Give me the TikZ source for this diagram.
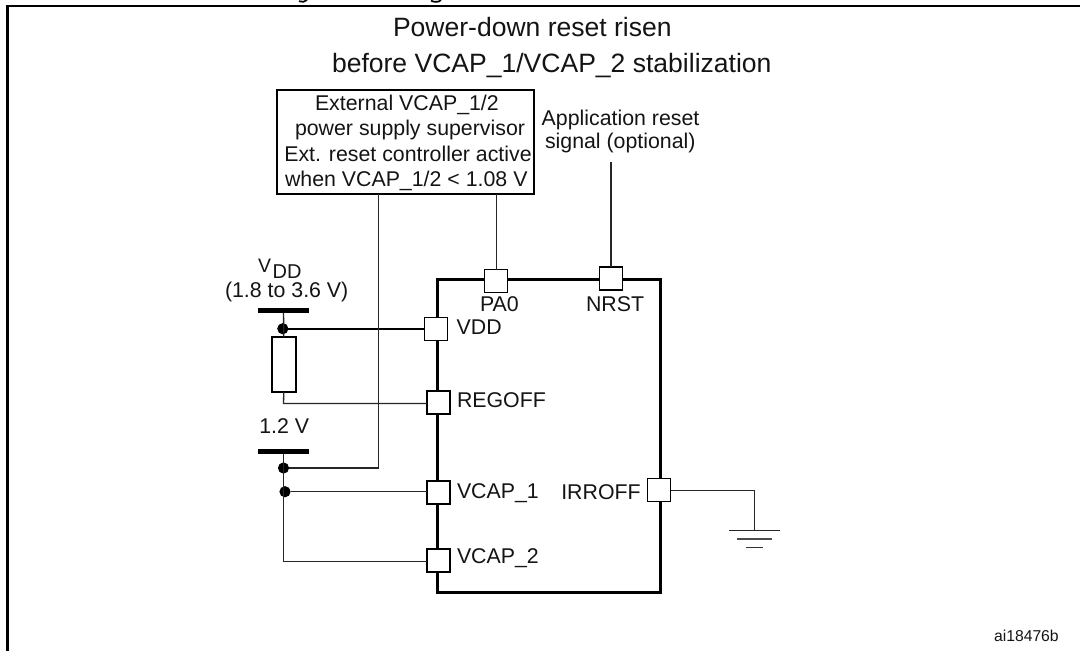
\documentclass[tikz,border=0pt]{standalone}
\usepackage{fontspec}
\setmainfont{Liberation Sans}
\begin{document}
\begin{tikzpicture}[x=0.75pt,y=-0.75pt,
  txt/.style={inner sep=0pt,outer sep=0pt,anchor=base west,font=\fontsize{16}{16}\selectfont,text=black!92},
  title/.style={txt,font=\fontsize{19.9}{20}\selectfont},
  tiny/.style={txt,font=\fontsize{11.8}{12}\selectfont},
  wirethin/.style={draw=black!85,line width=1pt},
  wirethick/.style={draw=black,line width=1.7pt},
  pin/.style={draw=black,fill=white,minimum width=17.4pt,minimum height=17.2pt,inner sep=0pt,outer sep=0pt,line width=0.85pt},
  pinbold/.style={pin,line width=1.45pt},
  busbar/.style={fill=black,minimum width=38.2pt,minimum height=3.6pt,inner sep=0pt,outer sep=0pt},
  jdot/.style={circle,fill=black,minimum size=8.4pt,inner sep=0pt,outer sep=0pt},
  chipbox/.style={draw=black,line width=1.9pt,minimum width=167.4pt,minimum height=234.75pt,inner sep=0pt,outer sep=0pt},
  supbox/.style={draw=black,line width=1.9pt,minimum width=192.8pt,minimum height=78pt,inner sep=0pt,outer sep=0pt},
  resbox/.style={draw=black,fill=white,line width=1.45pt,minimum width=17.7pt,minimum height=41pt,inner sep=0pt,outer sep=0pt}]
\useasboundingbox (0,0) rectangle (1080,651);
% frame
\coordinate (fa) at (7.4,651);
\coordinate (fb) at (7.4,6);
\coordinate (fc) at (1080,6);
\draw[black,line width=1.8pt,line join=miter] (fa) -- (fb) -- (fc);
% clipped remains of the heading above the frame
\draw[black,line width=1.3pt] (299,1.2) .. controls (302,2.4) and (305,2) .. (307,0);
\draw[black,line width=1.3pt] (431,0.6) .. controls (434,2.4) and (439,2.4) .. (441,0);
% titles
\node[title] (t1) at (393,36) {Power-down reset risen};
\node[title] (t2) at (332,72.7) {before VCAP\_1/VCAP\_2 stabilization};
% chip and supervisor
\node[chipbox] (chip) at (548.9,435.8) {};
\node[supbox] (sup) at (405.4,142) {};
\node[txt] (s1) at (315,110) {External VCAP\_1/2};
\node[txt] (s2) at (295,135.7) {power supply supervisor};
\node[txt] (s3) at (284.3,161.7) {Ext. reset controller active};
\node[txt] (s4) at (285,186.7) {when VCAP\_1/2 < 1.08 V};
\node[txt] (app1) at (541.7,125) {Application reset};
\node[txt] (app2) at (545,148.3) {signal (optional)};
\coordinate (nrsttop) at (611,162);
% pins
\node[pin] (pa0) at (496,281.2) {};
\node[pin] (nrst) at (611,278.5) {};
\node[pin] (vdd) at (436,328.7) {};
\node[pinbold] (regoff) at (438.5,402.5) {};
\node[pinbold] (vcap1) at (438.5,492.3) {};
\node[pinbold] (vcap2) at (438.5,560.5) {};
\node[pin] (irroff) at (659,490.2) {};
% power rails
\node[busbar] (railvdd) at (283.5,310.7) {};
\node[busbar] (railcap) at (283.5,451.3) {};
\node[resbox] (res) at (283.8,364.4) {};
\node[jdot] (dvdd) at (282.8,328.7) {};
\node[jdot] (dsup) at (283.5,468) {};
\node[jdot] (dcap) at (285,491.7) {};
\coordinate (corner2) at (283.5,561.5);
\coordinate (corner1) at (283.5,403.5);
\coordinate (gndtop) at (754.5,490.5);
\coordinate (supfoot) at (378.5,193.8);
\coordinate (supfootb) at (496.5,193.8);
% wires
\draw[wirethin] (railvdd) -- (res.north);
\draw[wirethick] (dvdd) -- (vdd.west);
\draw[wirethin] (res.south) -- (corner1) -- (corner1 -| regoff.west);
\draw[wirethin] (supfoot) -- (supfoot |- dsup) -- (dsup);
\draw[wirethin] (railcap) -- (corner2) -- (corner2 -| vcap2.west);
\draw[wirethin] (dcap) -- (dcap -| vcap1.west);
\draw[wirethin] (supfootb) -- (pa0.north -| supfootb);
\draw[wirethin] (nrsttop) -- (nrst.north);
\coordinate (gnd) at (754.5,530.3);
\draw[wirethin] (gndtop -| irroff.east) -- (gndtop) -- (gnd);
% ground
\draw[black!85,line width=0.9pt] (729,530.3) -- (gnd) -- (780,530.3);
\draw[black!70,line width=1.1pt] (737.3,539) -- (772,539);
\draw[black!80,line width=0.9pt] (746,547.7) -- (763.3,547.7);
% labels
\node[txt,font=\fontsize{14.6}{15}\selectfont] (lv) at (258,272.7) {V};
\node[txt,font=\fontsize{15}{15}\selectfont] (ldd) at (272.7,278) {DD};
\node[txt] (lrange) at (225,297.3) {(1.8 to 3.6 V)};
\node[txt] (l12) at (259.3,433.3) {1.2 V};
\node[txt] (lpa0) at (480,311.7) {PA0};
\node[txt] (lnrst) at (586,311.7) {NRST};
\node[txt] (lvdd) at (456.7,334) {VDD};
\node[txt] (lreg) at (457,407.7) {REGOFF};
\node[txt] (lc1) at (457,498.3) {VCAP\_1};
\node[txt] (lc2) at (457,563.3) {VCAP\_2};
\node[txt,anchor=base east] (lirr) at (640.7,499) {IRROFF};
\node[tiny] (lref) at (994,641.5) {ai18476b};
\end{tikzpicture}
\end{document}
